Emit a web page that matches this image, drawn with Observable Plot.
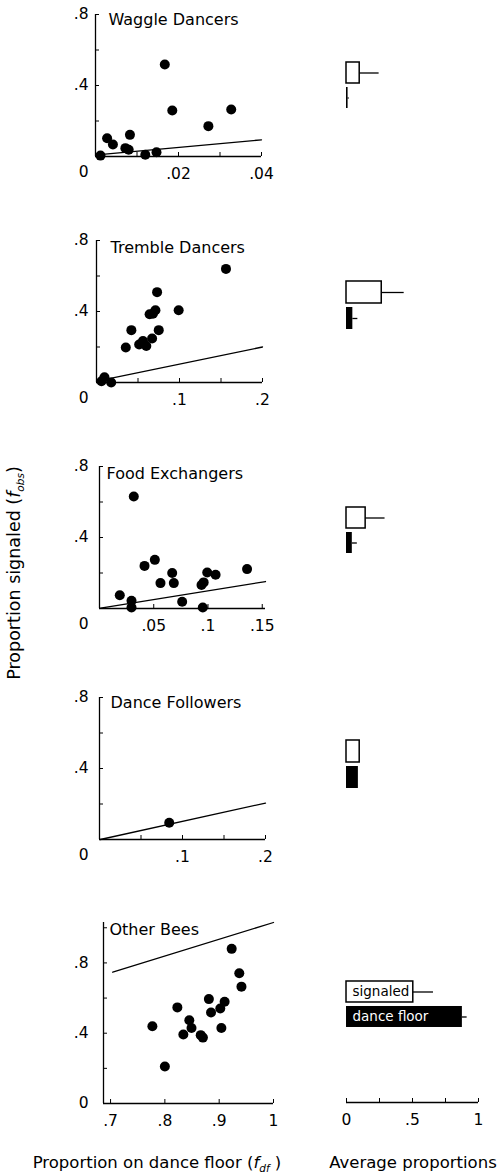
<!DOCTYPE html>
<html>
<head>
<meta charset="utf-8">
<script src="https://cdn.jsdelivr.net/npm/d3@7"></script>
<script src="https://cdn.jsdelivr.net/npm/@observablehq/plot@0.6"></script>
<style>
  body { margin: 0; background: #fff; }
  #chart { position: relative; width: 499px; height: 1176px; overflow: hidden; font-family: "DejaVu Sans", sans-serif; color: #000; background: #fff; }
  .panel { position: absolute; }
  .lab { position: absolute; font-size: 16.5px; line-height: 16px; white-space: nowrap; }
  .lab sub { font-size: 10.5px; font-style: italic; }
  .ylab { font-size: 17.5px; }
</style>
</head>
<body>
<div id="chart"></div>
<script>
// ---------- data ----------
const titles = ["Waggle Dancers", "Tremble Dancers", "Food Exchangers", "Dance Followers", "Other Bees"];

const waggleX = [0.0012, 0.0028, 0.0042, 0.0072, 0.008, 0.0083, 0.012, 0.0147, 0.0167, 0.0185, 0.0272, 0.0327];
const waggleY = [0.005, 0.103, 0.068, 0.047, 0.038, 0.122, 0.010, 0.024, 0.518, 0.259, 0.171, 0.265];
const waggleLineX = [0.001, 0.04];
const waggleLineY = [0.011, 0.094];

const trembleX = [0.006, 0.0096, 0.0177, 0.0353, 0.042, 0.0514, 0.056, 0.06, 0.067, 0.064, 0.068, 0.071, 0.075, 0.073, 0.099, 0.156];
const trembleY = [0.007, 0.03, 0.0, 0.197, 0.295, 0.214, 0.234, 0.206, 0.248, 0.385, 0.387, 0.407, 0.295, 0.509, 0.407, 0.64];
const trembleLineX = [0.005, 0.2];
const trembleLineY = [0.012, 0.2];

const foodX = [0.0187, 0.0295, 0.0295, 0.0316, 0.0415, 0.051, 0.0562, 0.067, 0.0685, 0.0762, 0.094, 0.096, 0.0952, 0.0993, 0.107, 0.136];
const foodY = [0.075, 0.043, 0.006, 0.631, 0.24, 0.274, 0.143, 0.2, 0.143, 0.038, 0.132, 0.147, 0.006, 0.203, 0.19, 0.222];
const foodLineX = [0.001, 0.153];
const foodLineY = [0.002, 0.152];

const followerX = [0.084];
const followerY = [0.094];
const followerLineX = [0.001, 0.2];
const followerLineY = [0.0, 0.205];

const otherX = [0.777, 0.800, 0.823, 0.834, 0.845, 0.849, 0.866, 0.870, 0.881, 0.885, 0.902, 0.904, 0.910, 0.923, 0.937, 0.941];
const otherY = [0.44, 0.211, 0.547, 0.393, 0.474, 0.43, 0.389, 0.375, 0.594, 0.518, 0.541, 0.43, 0.579, 0.88, 0.741, 0.665];
const otherLineX = [0.704, 1.0];
const otherLineY = [0.747, 1.03];

const xDomains = [[0, 0.04], [0, 0.2], [0, 0.153], [0, 0.2], [0.687, 1.0]];
const yDomains = [[0, 0.8], [0, 0.8], [0, 0.8], [0, 0.8], [0, 1.03]];
const xTicks = [[0, 0.01, 0.02, 0.03, 0.04], [0, 0.05, 0.1, 0.15, 0.2], [0, 0.05, 0.1, 0.15], [0, 0.05, 0.1, 0.15, 0.2], [0.7, 0.8, 0.9, 1.0]];
const xTickLabels = [[0.02, 0.04], [0.1, 0.2], [0.05, 0.1, 0.15], [0.1, 0.2], [0.7, 0.8, 0.9, 1]];
const yTicks = [[0, 0.2, 0.4, 0.6, 0.8], [0, 0.2, 0.4, 0.6, 0.8], [0, 0.2, 0.4, 0.6, 0.8], [0, 0.2, 0.4, 0.6, 0.8], [0, 0.2, 0.4, 0.6, 0.8, 1.0]];
const yTickLabels = [[0.4, 0.8], [0.4, 0.8], [0.4, 0.8], [0.4, 0.8], [0, 0.4, 0.8]];

// average proportions (bars)
const barTypes = ["signaled", "dance floor"];
const signaledMean = [0.10, 0.267, 0.145, 0.10, 0.506];
const signaledHi = [0.247, 0.437, 0.292, null, 0.659];
const danceMean = [0.012, 0.048, 0.044, 0.09, 0.878];
const danceHi = [0.02, 0.086, 0.082, null, 0.914];
const barAxisTicks = [0, 0.25, 0.5, 0.75, 1];
const barAxisLabels = [0, 0.5, 1];

// ---------- layout (page pixels) ----------
const layout = [
  {axisX: 95, xEnd: 261, yTop: 14, y0: 156, tdx: 13, tdy: -1},
  {axisX: 96, xEnd: 262, yTop: 240, y0: 382, tdx: 14, tdy: 1},
  {axisX: 99, xEnd: 265, yTop: 466, y0: 608, tdx: 7, tdy: 1},
  {axisX: 99, xEnd: 265, yTop: 697, y0: 839, tdx: 11, tdy: -1},
  {axisX: 103, xEnd: 273, yTop: 922, y0: 1103, tdx: 6, tdy: 1}
];
const barLayout = [
  {top: 61, bottom: 108.3},
  {top: 280.7, bottom: 328.3},
  {top: 506, bottom: 553.3},
  {top: 740, bottom: 788.3},
  {top: 981, bottom: 1027.7}
];

const xs = [waggleX, trembleX, foodX, followerX, otherX];
const ys = [waggleY, trembleY, foodY, followerY, otherY];
const lxs = [waggleLineX, trembleLineX, foodLineX, followerLineX, otherLineX];
const lys = [waggleLineY, trembleLineY, foodLineY, followerLineY, otherLineY];

const fmt = d => d === 0 ? "0" : String(d).replace(/^0\./, ".");
const chart = document.getElementById("chart");
function place(el, left, top) {
  const div = document.createElement("div");
  div.className = "panel";
  div.style.left = left + "px";
  div.style.top = top + "px";
  div.appendChild(el);
  chart.appendChild(div);
}
const baseStyle = {background: "transparent", overflow: "visible", fontFamily: "DejaVu Sans, sans-serif", fontSize: "15.5px", color: "black"};

for (let i = 0; i < 5; i++) {
  const L = layout[i];
  const W = 290, padT = 20, padB = 45;
  const H = (L.y0 - L.yTop) + padT + padB;
  const pts = xs[i].map((x, k) => ({x, y: ys[i][k]}));
  const line = lxs[i].map((x, k) => ({x, y: lys[i][k]}));
  const xmin = xDomains[i][0];
  const marks = [
    Plot.ruleX([xmin], {strokeWidth: 1.3}),
    Plot.ruleY([0], {strokeWidth: 1.3}),
    Plot.axisY({ticks: yTicks[i], tickSize: 4, dx: 4, tickFormat: () => ""}),
    Plot.axisY({ticks: yTickLabels[i], tickSize: 0, tickPadding: L.axisX - 88, tickFormat: fmt}),
    Plot.axisX({ticks: xTicks[i], tickSize: 4, dy: -4, tickFormat: () => ""}),
    Plot.axisX({ticks: xTickLabels[i], tickSize: 0, tickPadding: 11, tickFormat: fmt}),
    Plot.line(line, {x: "x", y: "y", stroke: "black", strokeWidth: 1.3}),
    Plot.dot(pts, {x: "x", y: "y", r: 5, fill: "black"}),
    Plot.text([titles[i]], {frameAnchor: "top-left", text: d => d, textAnchor: "start", lineAnchor: "top", dx: L.tdx, dy: L.tdy, fontSize: 16})
  ];
  if (i < 4) {
    marks.push(Plot.text(["0"], {x: () => xmin, y: () => 0, text: d => d, textAnchor: "end", dx: 88 - L.axisX, dy: 16}));
  }
  const svg = Plot.plot({
    width: W, height: H,
    marginLeft: L.axisX, marginRight: W - L.xEnd, marginTop: padT, marginBottom: padB,
    style: baseStyle,
    x: {domain: xDomains[i], label: null},
    y: {domain: yDomains[i], label: null},
    marks
  });
  place(svg, 0, L.yTop - padT);
}

// bar panels
for (let i = 0; i < 5; i++) {
  const B = barLayout[i];
  const rows = [
    {type: barTypes[0], value: signaledMean[i], hi: signaledHi[i]},
    {type: barTypes[1], value: danceMean[i], hi: danceHi[i]}
  ];
  const marks = [
    Plot.ruleY(rows.filter(d => d.hi != null), {y: "type", x1: "value", x2: "hi", stroke: "black", strokeWidth: 1.3}),
    Plot.barX(rows.filter(d => d.type === "signaled"), {y: "type", x: "value", fill: "white", stroke: "black", strokeWidth: 1.5}),
    Plot.barX(rows.filter(d => d.type === "dance floor"), {y: "type", x: "value", fill: "black"})
  ];
  if (i === 4) {
    marks.push(Plot.text(rows.filter(d => d.type === "signaled"), {y: "type", x: () => 0, text: "type", dx: 6, textAnchor: "start", fill: "black", fontSize: 13.5}));
    marks.push(Plot.text(rows.filter(d => d.type === "dance floor"), {y: "type", x: () => 0, text: "type", dx: 6, textAnchor: "start", fill: "white", fontSize: 13.5}));
  }
  const svg = Plot.plot({
    width: 199, height: (B.bottom - B.top) + 10,
    marginLeft: 46, marginRight: 21, marginTop: 5, marginBottom: 5,
    style: baseStyle,
    x: {domain: [0, 1], axis: null, label: null},
    y: {domain: barTypes, paddingInner: 0.17, paddingOuter: 0, axis: null, label: null},
    marks
  });
  place(svg, 300, B.top - 5);
}

// bar x axis
{
  const svg = Plot.plot({
    width: 199, height: 50,
    marginLeft: 46, marginRight: 21, marginTop: 10, marginBottom: 30,
    style: baseStyle,
    x: {domain: [0, 1], label: null},
    y: {domain: [0, 1], axis: null, label: null},
    marks: [
      Plot.ruleY([0], {strokeWidth: 1.3}),
      Plot.axisX({ticks: barAxisTicks, tickSize: 4, dy: -4, tickFormat: () => ""}),
      Plot.axisX({ticks: barAxisLabels, tickSize: 0, tickPadding: 11, tickFormat: fmt})
    ]
  });
  place(svg, 300, 1102 - 20);
}

// axis titles
function label(html, cx, top, rotate, cls) {
  const d = document.createElement("div");
  d.className = "lab" + (cls ? " " + cls : "");
  d.innerHTML = html;
  d.style.left = cx + "px";
  d.style.top = top + "px";
  d.style.transform = rotate ? "translate(-50%, -50%) rotate(-90deg)" : "translateX(-50%)";
  chart.appendChild(d);
}
label('Proportion on dance floor (<i>f</i><sub>df</sub> )', 157, 1155, false);
label('Average proportions', 413, 1155, false);
label('Proportion signaled (<i>f</i><sub>obs</sub>)', 17, 573, true, "ylab");
</script>
</body>
</html>
